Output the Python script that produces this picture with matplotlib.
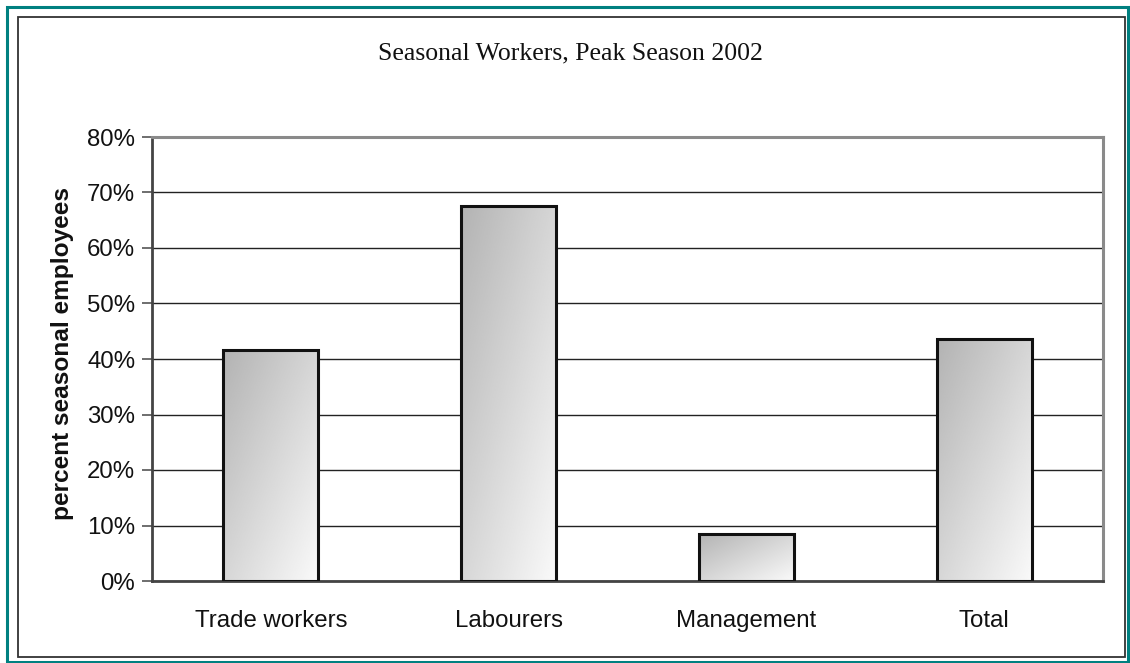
import numpy as np
import matplotlib
matplotlib.use("Agg")
import matplotlib.pyplot as plt
from matplotlib.patches import Rectangle
from matplotlib.ticker import FuncFormatter

# Share of seasonal employees by occupation group, peak season 2002
categories = ["Trade workers", "Labourers", "Management", "Total"]
shares = [41.6, 67.5, 8.5, 43.6]
y_ticks = [0, 10, 20, 30, 40, 50, 60, 70, 80]

W, H = 1130, 663
fig = plt.figure(figsize=(W / 100, H / 100), dpi=100)
fig.patch.set_facecolor("white")

# Outer teal frame and inner dark frame around the chart area
fig.add_artist(Rectangle((6.5 / W, 1 - 662 / H), 1121 / W, 655 / H,
                         transform=fig.transFigure, fill=False,
                         edgecolor="#008080", linewidth=2.2))
fig.add_artist(Rectangle((17.5 / W, 1 - 657 / H), 1107 / W, 640 / H,
                         transform=fig.transFigure, fill=False,
                         edgecolor="#333333", linewidth=1.3))

ax = fig.add_axes([152 / W, 1 - 581 / H, (1103 - 152) / W, (581 - 137) / H])
ax.set_xlim(-0.5, len(categories) - 0.5)
ax.set_ylim(0, 80)

# Horizontal gridlines
ax.set_yticks(y_ticks)
ax.yaxis.grid(True, color="#222222", linewidth=1.0)
ax.set_axisbelow(True)

# Diagonal grey gradient used as bar fill
ny, nx = 200, 200
gy, gx = np.mgrid[0:1:complex(0, ny), 0:1:complex(0, nx)]
grad = 0.70 + 0.28 * (gx + gy) / 2.0

bar_w = 0.40
bars = ax.bar(range(len(categories)), shares, width=bar_w,
              facecolor="none", edgecolor="#111111", linewidth=2.2, zorder=3)
for b in bars:
    x0, y0 = b.get_x(), b.get_y()
    w, h = b.get_width(), b.get_height()
    im = ax.imshow(grad, cmap="gray", vmin=0, vmax=1, aspect="auto",
                   extent=(x0, x0 + w, y0, y0 + h), origin="upper",
                   interpolation="bilinear", zorder=2)
    clip = Rectangle((x0, y0), w, h, transform=ax.transData)
    im.set_clip_path(clip)
ax.set_xlim(-0.5, len(categories) - 0.5)
ax.set_ylim(0, 80)

ax.set_xticks(range(len(categories)))
ax.set_xticklabels(categories)
ax.yaxis.set_major_formatter(FuncFormatter(lambda v, p: f"{int(v)}%"))

for lab in ax.get_xticklabels() + ax.get_yticklabels():
    lab.set_fontfamily("Liberation Sans")
    lab.set_fontsize(17.3)
    lab.set_color("#111111")

ax.tick_params(axis="x", length=0, pad=21)
ax.tick_params(axis="y", length=7, width=1.2, color="#555555", pad=5)

ax.spines["left"].set_color("#444444")
ax.spines["left"].set_linewidth(2.0)
ax.spines["bottom"].set_color("#444444")
ax.spines["bottom"].set_linewidth(2.0)
ax.spines["top"].set_color("#8a8a8a")
ax.spines["top"].set_linewidth(2.2)
ax.spines["right"].set_color("#8a8a8a")
ax.spines["right"].set_linewidth(2.2)

fig.text(63 / W, 1 - 353 / H, "percent seasonal employees", rotation=90,
         ha="center", va="center", fontfamily="Liberation Sans",
         fontweight="bold", fontsize=17.6, color="#111111")

fig.text(570 / W, 1 - 53 / H, "Seasonal Workers, Peak Season 2002",
         ha="center", va="center", fontfamily="Liberation Serif",
         fontsize=18.5, color="#111111")

fig.savefig("out.png", dpi=100, facecolor="white")
